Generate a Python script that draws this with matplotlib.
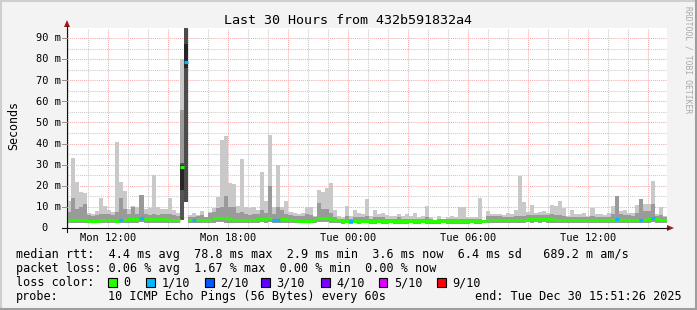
import matplotlib
matplotlib.use('Agg')
import matplotlib.pyplot as plt
from matplotlib.lines import Line2D
from matplotlib.patches import Polygon, Rectangle

plt.rcParams['font.family'] = ['DejaVu Sans Mono', 'DejaVu Sans']

W, H = 697, 310

# smoke data, 149 bins over the last 30 hours (ms); hours counted from Mon 00:00
start_hour = 9.95
span_hours = 30

# max ping per bin (top of light smoke)
hi = [13, 33, 22, 17, 16.5, 7, 6.5, 8, 14, 10.5, 8.5, 7.5, 40.8, 21.6, 17.6, 9, 10.5, 10, 15.7, 9,
      9.5, 25, 10, 9, 9, 14, 8.5, 7,
      80, 100,
      6, 7, 6, 8, 5, 7.5, 9.5, 14.7, 41.7, 43.7, 21.5, 20.8, 10.5, 32.7, 10, 9.5, 10, 8.5, 26.7, 13,
      44.2, 10, 29.9, 10, 12.9, 7.5, 7, 6.5, 7, 10,
      10,
      5.5, 18, 17, 18.8, 21.5, 8.5, 5.5, 5, 10.5, 5.5, 8.5, 7, 6.5, 13.8, 5.5, 8.5, 6.5, 7, 6, 5.5,
      5.5, 6.5, 5.5, 6.5, 5.5, 7, 5, 5.5, 10.5, 5,
      4, 5.5, 4.5, 5, 5.5, 5, 10, 10, 5, 5, 5, 14, 4, 8, 6.5, 6.5, 6.5, 6, 7, 6.5,
      8.5, 24.8, 12.3, 7.5, 11, 7.3, 7.5, 8, 7, 11,
      10.5, 13, 9.5, 5.5, 8.5, 6.5, 6.5, 7.3, 5.5, 9.5, 6.5, 6.5, 6, 7.3, 10.5, 15.2, 8, 8.5, 7.3, 7,
      11, 13.9, 11.5, 11.5, 22.3, 6.5, 10, 5.5]

# top of the denser (medium) smoke
mid = [7.5, 14, 9, 10, 11.5, 6, 5.5, 6, 6.5, 6.5, 6.5, 6, 7.5, 14, 9, 6.5, 10, 6.5, 15.7, 6.5,
       6, 6.5, 6, 6.5, 6.5, 6.5, 6, 5.5,
       56, 100,
       5, 5, 5.5, 6, 5, 7, 7.5, 9.5, 10, 15, 10, 10, 7, 7.5, 6.5, 6, 6.5, 6.5, 8.5, 7,
       20, 6.5, 10, 8.5, 6.5, 6, 5.5, 5.5, 5.5, 6.5,
       6,
       5, 11.7, 9, 9, 7, 5, 4.5, 4.5, 5.5, 4.5, 5, 5, 5, 5.5, 4.5, 5, 5, 5, 4.5, 4.5,
       4.5, 5, 4.5, 4.5, 4.5, 4.5, 4.5, 4.5, 5, 4.5,
       4, 4.5, 4.5, 4.5, 4.5, 4.5, 4.5, 4.5, 4.5, 4.5, 4.5, 4.5, 4, 5.5, 5.5, 5.5, 5.5, 5, 5, 5,
       5.5, 5.5, 5.5, 6, 6, 6, 6, 6, 6, 6.5,
       6, 6, 5.5, 5, 5, 5, 5, 5, 5, 5.5, 5, 5, 5, 5, 6.5, 15.2, 6.5, 6, 6, 5.5,
       7, 13.9, 8, 8, 11.5, 5.5, 6, 5]

# min ping per bin
lo = [2.4, 2.2, 2.3, 2.5, 2.3, 2.6, 2.4, 2.2, 2.3, 2.5, 2.4, 2.2, 2.3, 2.4, 2.3, 2.6, 2.5, 2.4, 2.7, 2.5,
      2.4, 2.6, 2.5, 2.4, 2.3, 2.2, 2.4, 2.3,
      3.8, 12.5,
      2.2, 2.3, 2.4, 2.4, 2.3, 2.5, 2.6, 2.7, 2.8, 2.6, 2.5, 2.4, 2.4, 2.3, 2.4, 2.5, 2.5, 2.6, 2.7, 2.6,
      2.7, 2.4, 2.4, 2.6, 2.5, 2.3, 2.2, 2.2, 2.2, 2.3,
      2.3,
      2.2, 2.8, 2.9, 2.8, 2.5, 2.3, 2.2, 2.1, 2.2, 2.1, 2.2, 2.1, 2.2, 2.2, 2.1, 2.1, 2.2, 2.1, 2.1, 2.2,
      2.0, 2.1, 2.1, 2.1, 2.2, 2.1, 2.1, 2.2, 2.1, 2.1,
      2.1, 2.1, 2.2, 2.1, 2.1, 2.0, 2.0, 2.1, 2.1, 2.2, 2.1, 2.1, 2.2, 2.3, 2.4, 2.3, 2.3, 2.4, 2.3, 2.4,
      2.4, 2.5, 2.5, 2.7, 2.6, 2.7, 2.6, 2.7, 2.6, 2.6,
      2.6, 2.5, 2.5, 2.4, 2.4, 2.3, 2.3, 2.4, 2.4, 2.4, 2.3, 2.3, 2.3, 2.4, 2.5, 2.6, 2.5, 2.5, 2.5, 2.4,
      2.4, 2.5, 2.5, 2.6, 2.8, 2.6, 2.5, 2.3]

# median rtt per bin
median = [3.8, 3.8, 3.6, 3.8, 3.8, 3.5, 3.5, 3.5, 3.6, 3.6, 3.8, 3.8, 3.3, 4.0, 3.8, 4.4, 4.4, 4.4, 4.7, 4.4,
          4.4, 4.4, 4.3, 4.4, 4.3, 3.8, 3.8, 3.8,
          29, 78.8,
          3.8, 3.8, 3.8, 3.8, 3.8, 4.0, 4.6, 4.6, 4.8, 4.6, 4.4, 4.0, 4.0, 3.8, 3.8, 4.0, 4.0, 4.2, 4.5, 4.5,
          4.6, 3.8, 3.8, 4.4, 4.4, 4.0, 3.6, 3.5, 3.5, 3.5,
          3.5,
          3.6, 4.6, 4.6, 4.6, 4.2, 3.8, 3.6, 3.4, 3.4, 3.4, 3.5, 3.3, 3.3, 3.5, 3.3, 3.3, 3.3, 3.3, 3.3, 3.3,
          3.2, 3.2, 3.2, 3.3, 3.3, 3.3, 3.3, 3.3, 3.3, 3.3,
          3.2, 3.2, 3.4, 3.2, 3.2, 3.1, 3.1, 3.1, 3.2, 3.3, 3.3, 3.2, 3.3, 3.6, 3.8, 3.6, 3.6, 3.7, 3.6, 3.8,
          3.7, 3.8, 3.8, 4.2, 4.2, 4.2, 4.2, 4.2, 4.2, 4.2,
          4.0, 4.0, 4.0, 3.8, 3.8, 3.6, 3.6, 3.8, 3.8, 3.8, 3.6, 3.6, 3.6, 3.8, 4.0, 4.3, 4.0, 4.0, 4.0, 3.8,
          3.8, 4.0, 4.0, 4.2, 4.6, 4.2, 4.0, 3.6]

# bins where 1 of 10 pings was lost
loss_1_bins = [13, 18, 29, 31, 51, 52, 70, 136, 142, 145]

# dense smoke of the spike
dark_bins = [28, 28, 29, 29]
dark_lo = [3.8, 18, 12.5, 76]
dark_hi = [31, 30, 100, 87]

ytick_vals = [0, 10, 20, 30, 40, 50, 60, 70, 80, 90]
ytick_labels = ['0  ', '10 m', '20 m', '30 m', '40 m', '50 m', '60 m', '70 m', '80 m', '90 m']
xtick_hours = [12, 18, 24, 30, 36]
xtick_labels = ['Mon 12:00', 'Mon 18:00', 'Tue 00:00', 'Tue 06:00', 'Tue 12:00']

loss_names = ['0', '1/10', '2/10', '3/10', '4/10', '5/10', '9/10']
loss_colors = ['#26ff00', '#00b8ff', '#0059ff', '#5e00ff', '#7e00ff', '#dd00ff', '#ff0000']


def fx(px):
    return px / W


def fy(py):
    return 1 - py / H


n = len(hi)
bw = span_hours / n
xs = [start_hour + i * bw for i in range(n)]

fig = plt.figure(figsize=(W / 100, H / 100), dpi=100)
fig.patch.set_facecolor('#f3f3f3')

ax = fig.add_axes([fx(67), fy(228), 600 / W, 200 / H])
ax.set_facecolor('white')
ax.set_xlim(start_hour, start_hour + span_hours)
ax.set_ylim(0, 200 / 2.111)
for s in ax.spines.values():
    s.set_visible(False)
ax.set_xticks([])
ax.set_yticks([])

# grid (under the smoke)
for h in range(10, 40):
    ax.axvline(h, color='#f4acac' if h % 3 == 0 else '#cacaca', lw=0.75,
               ls=(0, (1, 1)), zorder=0.5)
for v in range(5, 95, 5):
    ax.axhline(v, color='#f4acac' if v % 10 == 0 else '#cacaca', lw=0.75,
               ls=(0, (1, 1)), zorder=0.5)

# smoke
ax.bar(xs, [h - l for h, l in zip(hi, lo)], width=bw, bottom=lo, align='edge',
       color='#c9c9c9', linewidth=0, antialiased=False, zorder=1)
ax.bar(xs, [m - l for m, l in zip(mid, lo)], width=bw, bottom=lo, align='edge',
       color='#9a9a9a', linewidth=0, antialiased=False, zorder=1.1)
ax.bar([xs[i] for i in dark_bins], [h - l for h, l in zip(dark_hi, dark_lo)], width=bw,
       bottom=dark_lo, align='edge', color=['#555555', '#262626', '#4c4c4c', '#262626'],
       linewidth=0, antialiased=False, zorder=1.2)

# median line coloured by loss
med_cols = [loss_colors[1] if i in loss_1_bins else loss_colors[0] for i in range(n)]
ax.hlines(median, xs, [x + bw for x in xs], colors=med_cols, linewidth=2.3, zorder=3)

# axes with arrows
fig.add_artist(Line2D([fx(62), fx(668)], [fy(228), fy(228)], color='#101010', lw=0.8))
fig.add_artist(Line2D([fx(67), fx(67)], [fy(232), fy(26)], color='#101010', lw=0.8))
fig.add_artist(Polygon([(fx(667), fy(225)), (fx(667), fy(231)), (fx(674), fy(228))],
                       closed=True, color='#a01818', lw=0))
fig.add_artist(Polygon([(fx(64), fy(27)), (fx(70), fy(27)), (fx(67), fy(20))],
                       closed=True, color='#a01818', lw=0))

# y labels and small ticks
for v, lab in zip(ytick_vals, ytick_labels):
    py = 228 - v * 2.111
    fig.text(fx(60.5), fy(py + 3.3), lab, ha='right', va='baseline', fontsize=7.5)
    if v > 0:
        fig.add_artist(Line2D([fx(62), fx(67)], [fy(py), fy(py)], color='#909090', lw=0.7))

# x labels
for hr, lab in zip(xtick_hours, xtick_labels):
    px = 67 + (hr - start_hour) * 20
    fig.text(fx(px), fy(240.7), lab, ha='center', va='baseline', fontsize=7.5)

fig.text(fx(348.5), fy(24), 'Last 30 Hours from 432b591832a4', ha='center', va='baseline',
         fontsize=9.6)
fig.text(fx(14), fy(126), 'Seconds', rotation=90, ha='center', va='center', fontsize=8.4)
fig.text(fx(688), fy(60), 'RRDTOOL / TOBI OETIKER', rotation=270, ha='center', va='center',
         fontsize=5.8, color='#a8a8a8')

# legend
fs = 8.45
fig.text(fx(16), fy(258), 'median rtt:  4.4 ms avg  78.8 ms max  2.9 ms min  3.6 ms now  6.4 ms sd   689.2 m am/s',
         ha='left', va='baseline', fontsize=fs)
fig.text(fx(16), fy(272), 'packet loss: 0.06 % avg  1.67 % max  0.00 % min  0.00 % now',
         ha='left', va='baseline', fontsize=fs)
fig.text(fx(16), fy(286), 'loss color:', ha='left', va='baseline', fontsize=fs)
box_x = [108, 146, 205, 261, 321, 379, 437]
for bx, name, col in zip(box_x, loss_names, loss_colors):
    fig.add_artist(Rectangle((fx(bx), fy(287)), 8.5 / W, 9 / H, facecolor=col,
                             edgecolor='black', lw=0.8))
    fig.text(fx(bx + 15.5), fy(286), name, ha='left', va='baseline', fontsize=fs)
fig.text(fx(16), fy(300), 'probe:', ha='left', va='baseline', fontsize=fs)
fig.text(fx(107.6), fy(300), '10 ICMP Echo Pings (56 Bytes) every 60s', ha='left', va='baseline',
         fontsize=fs)
fig.text(fx(682), fy(300), 'end: Tue Dec 30 15:51:26 2025', ha='right', va='baseline', fontsize=fs)

# frame
fig.add_artist(Line2D([0, 1], [fy(0.5), fy(0.5)], color='#cfcfcf', lw=1.5))
fig.add_artist(Line2D([fx(0.5), fx(0.5)], [0, 1], color='#cfcfcf', lw=1.5))
fig.add_artist(Line2D([0, 1], [fy(309), fy(309)], color='#9e9e9e', lw=1.5))
fig.add_artist(Line2D([fx(696), fx(696)], [0, 1], color='#9e9e9e', lw=1.5))

fig.savefig('out.png', dpi=100, facecolor=fig.get_facecolor())
